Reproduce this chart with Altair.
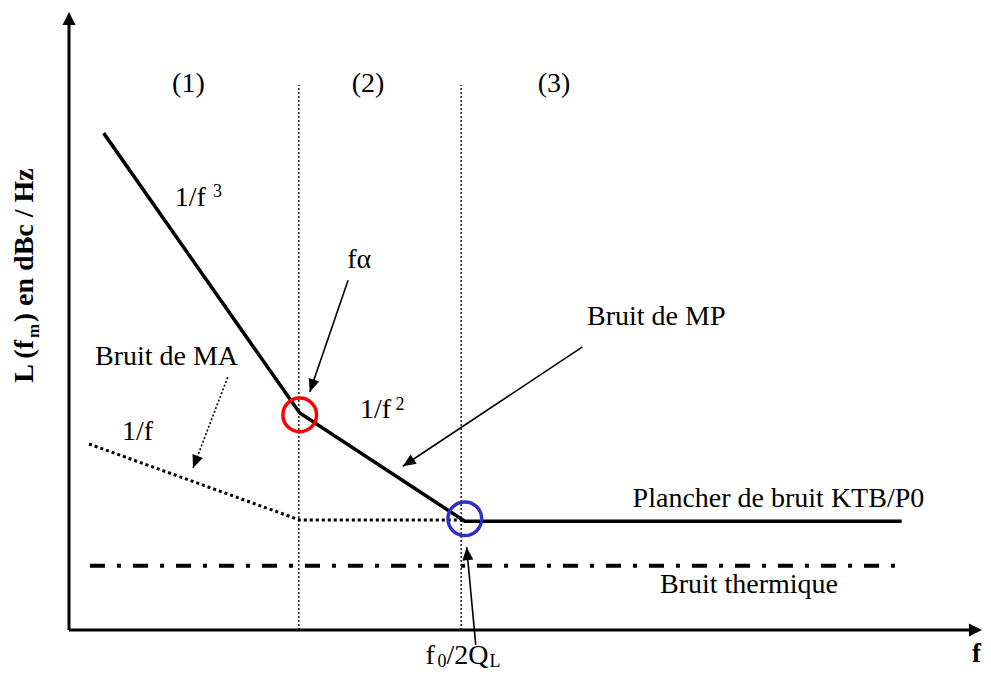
import math
import altair as alt
import pandas as pd

# Schematic units: x = offset frequency (log scale, 0..100), y = noise level L(fm) (0..100)
pm_x = [3.8, 25.3, 43.4, 91.3]          # phase-noise (MP) asymptotes: 1/f^3, 1/f^2, floor
pm_y = [80.4, 35.1, 17.6, 17.6]
am_x = [2.2, 25.3, 43.4]                # amplitude-noise (MA): 1/f then floor
am_y = [30.1, 17.8, 17.8]
thermal_x = [2.3, 91.4]                 # thermal noise
thermal_y = [10.4, 10.4]
region_x = [25.2, 43.0]                 # region boundaries (1)|(2)|(3)
region_top = [88.2, 88.2]
corner_x = [25.3, 43.4]                 # corner frequencies fα and f0/2QL
corner_y = [34.8, 18.0]
corner_color = ["#ff0000", "#3030c8"]
arrow_x1 = [30.6, 56.3, 44.6]
arrow_y1 = [56.6, 45.8, -2.4]
arrow_x2 = [26.4, 36.6, 43.6]
arrow_y2 = [38.5, 26.5, 13.4]
ma_arrow_x1 = [17.4]
ma_arrow_y1 = [40.9]
ma_arrow_x2 = [13.6]
ma_arrow_y2 = [26.2]

label_text = ["(1)", "(2)", "(3)", "1/f", "3", "fα", "Bruit de MP", "Bruit de MA", "1/f",
              "1/f", "2", "Plancher de bruit KTB/P0", "Bruit thermique",
              "f", "0", " /2Q", "L"]
label_x = [11.3, 31.0, 51.4, 11.6, 15.8, 30.5, 56.8, 2.85, 5.8,
           31.9, 35.8, 61.8, 64.8,
           39.1, 40.4, 41.4, 46.1]
label_y = [87.1, 87.1, 87.1, 68.6, 70.1, 58.6, 49.35, 42.9, 30.7,
           34.3, 35.6, 19.9, 6.0,
           -5.45, -6.05, -5.45, -6.05]
label_size = [28, 28, 28, 28, 18, 28, 28, 28, 28,
              28, 18, 28, 28,
              28, 18, 28, 18]

bold_text = ["f", "L (f", "m", ") en dBc / Hz"]
bold_x = [99.0, -3.95, -3.3, -3.95]
bold_y = [-5.2, 40.0, 47.25, 49.8]
bold_size = [27, 28, 17, 28]
bold_angle = [0, 270, 270, 270]

W, H = 912, 618
SX, SY = W / 100.0, H / 100.0


def screen_angle(x1, y1, x2, y2):
    dx = (x2 - x1) * SX
    dy = -(y2 - y1) * SY
    return math.degrees(math.atan2(dx, -dy)) % 360


xs = alt.Scale(domain=[0, 100], nice=False, zero=False)
ys = alt.Scale(domain=[0, 100], nice=False, zero=False)
X = lambda f: alt.X(f, type="quantitative", scale=xs, axis=None)
Y = lambda f: alt.Y(f, type="quantitative", scale=ys, axis=None)

FONT = "Liberation Serif"

regions = alt.Chart(pd.DataFrame({"x": region_x, "top": region_top, "bottom": [0, 0]})).mark_rule(
    color="#222222", strokeWidth=1.5, strokeDash=[2, 2]
).encode(x=X("x"), y=Y("bottom"), y2="top")

thermal = alt.Chart(pd.DataFrame({"x": thermal_x, "y": thermal_y})).mark_line(
    color="black", strokeWidth=4, strokeDash=[15, 12, 4, 12]
).encode(x=X("x"), y=Y("y"))

am = alt.Chart(pd.DataFrame({"x": am_x, "y": am_y})).mark_line(
    color="black", strokeWidth=3, strokeDash=[3, 3]
).encode(x=X("x"), y=Y("y"))

pm = alt.Chart(pd.DataFrame({"x": pm_x, "y": pm_y})).mark_line(
    color="black", strokeWidth=3.5
).encode(x=X("x"), y=Y("y"))

corners = alt.Chart(pd.DataFrame({"x": corner_x, "y": corner_y, "c": corner_color})).mark_point(
    shape="circle", filled=False, size=1134, strokeWidth=3.5, opacity=1
).encode(x=X("x"), y=Y("y"), color=alt.Color("c:N", scale=None))

arrows_df = pd.DataFrame({"x1": arrow_x1, "y1": arrow_y1, "x2": arrow_x2, "y2": arrow_y2})
arrows_df["angle"] = [screen_angle(a, b, c, d) for a, b, c, d in zip(arrow_x1, arrow_y1, arrow_x2, arrow_y2)]
ma_df = pd.DataFrame({"x1": ma_arrow_x1, "y1": ma_arrow_y1, "x2": ma_arrow_x2, "y2": ma_arrow_y2})
ma_df["angle"] = [screen_angle(a, b, c, d) for a, b, c, d in zip(ma_arrow_x1, ma_arrow_y1, ma_arrow_x2, ma_arrow_y2)]
heads_df = pd.concat([arrows_df, ma_df], ignore_index=True)

shafts = alt.Chart(arrows_df).mark_rule(color="black", strokeWidth=1.6).encode(
    x=X("x1"), y=Y("y1"), x2="x2", y2="y2")
ma_shaft = alt.Chart(ma_df).mark_rule(color="black", strokeWidth=1.6, strokeDash=[2, 2]).encode(
    x=X("x1"), y=Y("y1"), x2="x2", y2="y2")
heads = alt.Chart(heads_df).mark_point(
    shape="M0,0L0.85,2L-0.85,2Z", filled=True, color="black", size=169, opacity=1
).encode(x=X("x2"), y=Y("y2"), angle=alt.Angle("angle:Q", scale=None))

axes_df = pd.DataFrame({"x1": [0, 0], "y1": [0, 0], "x2": [0, 99.0], "y2": [99, 0]})
axes = alt.Chart(axes_df).mark_rule(color="black", strokeWidth=3).encode(
    x=X("x1"), y=Y("y1"), x2="x2", y2="y2")
axis_heads_df = pd.DataFrame({"x": [0, 100.1], "y": [100, 0], "angle": [0, 90]})
axis_heads = alt.Chart(axis_heads_df).mark_point(
    shape="M0,0L1,2L-1,2Z", filled=True, color="black", size=169, opacity=1
).encode(x=X("x"), y=Y("y"), angle=alt.Angle("angle:Q", scale=None))

labels = alt.Chart(pd.DataFrame({"t": label_text, "x": label_x, "y": label_y, "s": label_size})).mark_text(
    font=FONT, align="left", baseline="alphabetic", color="black"
).encode(x=X("x"), y=Y("y"), text="t:N", size=alt.Size("s:Q", scale=None))

bold = alt.Chart(pd.DataFrame({"t": bold_text, "x": bold_x, "y": bold_y, "s": bold_size, "a": bold_angle})).mark_text(
    font=FONT, fontWeight="bold", align="left", baseline="alphabetic", color="black"
).encode(x=X("x"), y=Y("y"), text="t:N", size=alt.Size("s:Q", scale=None),
         angle=alt.Angle("a:Q", scale=None))

chart = alt.layer(
    regions, thermal, am, pm, corners, shafts, ma_shaft, heads, axes, axis_heads, labels, bold
).properties(
    width=W, height=H,
    autosize=alt.AutoSizeParams(type="none"),
    padding={"left": 61, "top": 4, "right": 2, "bottom": 43},
    background="white",
).configure_view(stroke=None)

chart.save("out.html", embed_options={"renderer": "svg", "actions": False})
